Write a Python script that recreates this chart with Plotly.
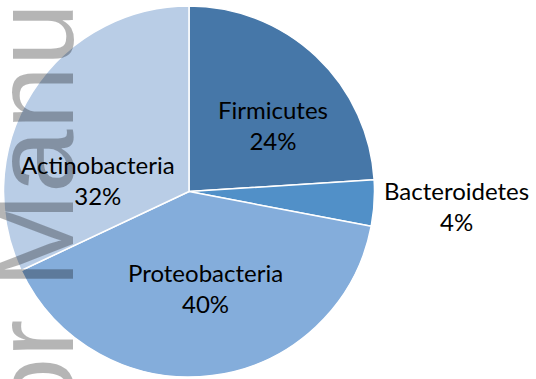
import plotly.graph_objects as go

labels = ["Firmicutes", "Bacteroidetes", "Proteobacteria", "Actinobacteria"]
values = [24, 4, 40, 32]
colors = ["#4677A8", "#5190C8", "#84ADDB", "#B9CDE6"]
watermark = "Author Manuscript"

W, H = 536, 379

# label block centres in pixels (layout only)
label_px = [(273, 124.5), (456, 206), (205, 287.5), (97.5, 180)]

fig = go.Figure(
    go.Pie(
        labels=labels,
        values=values,
        sort=False,
        direction="clockwise",
        rotation=0,
        marker=dict(colors=colors, line=dict(color="white", width=1.5)),
        textinfo="none",
        domain=dict(x=[3.5 / W, 374.5 / W], y=[2 / H, 373 / H]),
        automargin=False,
        showlegend=False,
        hoverinfo="skip",
    )
)

total = sum(values)
for lab, val, (px, py) in zip(labels, values, label_px):
    fig.add_annotation(
        text=f"{lab}<br>{round(100 * val / total)}%",
        xref="paper", yref="paper",
        x=px / W, y=1 - py / H,
        xanchor="center", yanchor="middle",
        showarrow=False,
        align="center",
        font=dict(family="Lato", size=24, color="black"),
    )

fig.add_annotation(
    text=watermark,
    xref="paper", yref="paper",
    x=33 / W, y=1 - 193.5 / H,
    xanchor="center", yanchor="middle",
    textangle=-90,
    showarrow=False,
    font=dict(family="Liberation Sans", size=114, color="rgba(0,0,0,0.29)"),
)

fig.update_layout(
    width=W, height=H,
    margin=dict(l=0, r=0, t=0, b=0),
    paper_bgcolor="white",
    plot_bgcolor="white",
)

fig.write_html("out.html")
